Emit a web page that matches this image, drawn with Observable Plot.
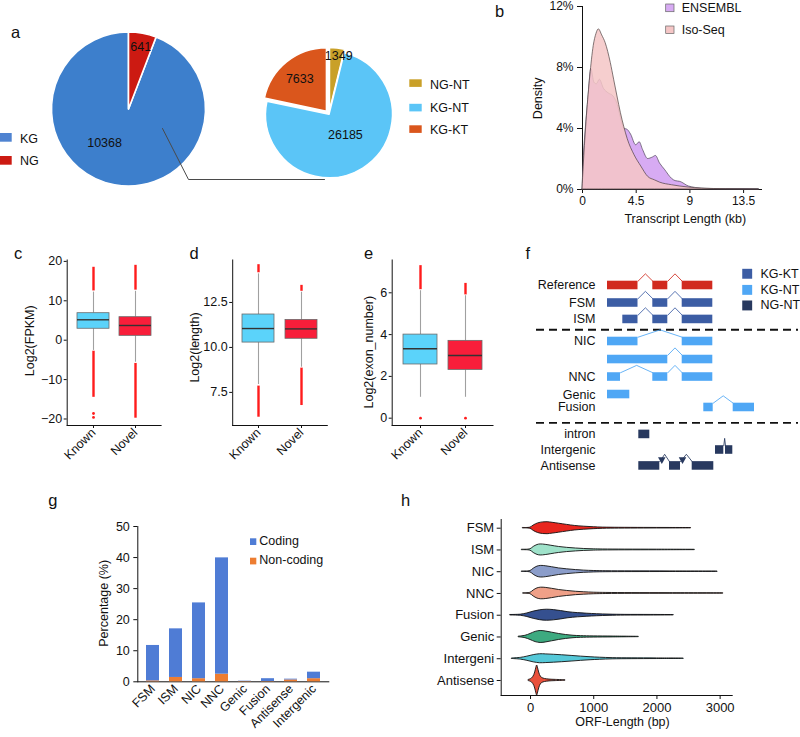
<!DOCTYPE html>
<html><head><meta charset="utf-8">
<script src="https://cdn.jsdelivr.net/npm/d3@7"></script>
<script src="https://cdn.jsdelivr.net/npm/@observablehq/plot@0.6"></script>
<style>
body{margin:0;background:#fff;}
#root{position:relative;width:800px;height:737px;overflow:hidden;background:#fff;}
</style></head><body><div id="root"></div>
<script>
// ---------------- DATA ----------------
// a: pies
const geneLabels = ["KG", "NG"];
const geneCounts = [10368, 641];
const geneColors = ["#3D7FCC", "#CC1A12"];
const transLabels = ["NG-NT", "KG-NT", "KG-KT"];
const transCounts = [1349, 26185, 7633];
const transColors = ["#C9A028", "#5BC5F7", "#DA561C"];

// b: density of transcript length (kb, %)
const ensemblKb   = [0,0.12,0.28,0.5,0.74,1.0,1.2,1.45,1.8,2.2,2.6,2.93,3.22,3.5,3.8,4.07,4.5,4.79,5.07,5.5,5.9,6.15,6.5,6.9,7.5,7.8,8.2,8.9,9.5,10.3,11.5,13,14.8];
const ensemblDens = [0,2.2,4.0,6.0,7.9,7.0,6.9,7.2,6.6,6.3,6.1,5.6,4.7,4.0,3.9,3.6,2.9,3.1,2.6,2.0,2.1,2.2,1.7,1.3,0.7,0.55,0.5,0.2,0.1,0.04,0.02,0.01,0];
const isoKb   = [0,0.1,0.37,0.65,0.94,1.17,1.37,1.65,1.94,2.37,2.65,2.93,3.22,3.5,3.79,4.36,4.93,5.5,6.07,6.5,7.5,8.9,10,12,14.8];
const isoDens = [0,1.5,4.8,7.4,9.4,10.2,10.5,10.1,9.6,8.3,7.2,6.1,5.0,4.1,3.3,2.25,1.5,0.83,0.6,0.45,0.28,0.13,0.06,0.02,0];

// c,d,e: box plot summaries
const boxGroups = ["Known", "Novel"];
const boxColors = ["#5BD3FA", "#F81E3A"];
const fpkmQ1 = [2.9, 1.1], fpkmMed = [5.18, 3.73], fpkmQ3 = [6.85, 5.84], fpkmLo = [-2.6, -5.6], fpkmHi = [12.2, 12.4];
const fpkmOutRanges = [[[12.5, 18.5], [-2.8, -14.5]], [[12.7, 19.0], [-5.9, -19.8]]];
const fpkmOutPoints = [[-18.6, -19.6], []];
const lenQ1 = [10.27, 10.48], lenMed = [11.05, 11.03], lenQ3 = [11.83, 11.53], lenLo = [7.94, 8.9], lenHi = [14.09, 13.07];
const lenOutRanges = [[[14.15, 14.6], [7.85, 6.12]], [[13.12, 13.45], [8.85, 6.77]]];
const lenOutPoints = [[], []];
const exonQ1 = [2.57, 2.31], exonMed = [3.32, 3.0], exonQ3 = [4.0, 3.7], exonLo = [1.0, 1.0], exonHi = [6.1, 5.86];
const exonOutRanges = [[[6.15, 7.3]], [[5.9, 6.45]]];
const exonOutPoints = [[0], [0]];

// f: structural categories schematic
const fLabels = ["Reference","FSM","ISM","NIC","","NNC","Genic","Fusion","intron","Intergenic","Antisense"];
const fClass  = ["Reference","KG-KT","KG-KT","KG-NT","KG-NT","KG-NT","KG-NT","KG-NT","NG-NT","NG-NT","NG-NT"];
const fTrack  = [0, 1, 1.94, 3.2, 4.23, 5.23, 6.23, 6.97, 8.51, 9.4, 10.31];
const fExons = [
  [[0,30.5],[45.3,60.3],[74.7,105.3]],
  [[0,30.5],[45.3,60.3],[74.7,105.3]],
  [[15.3,30.5],[45.3,60.3],[74.7,105.3]],
  [[0,30.5],[74.7,105.3]],
  [[0,60.3],[74.7,105.3]],
  [[0,13],[45.3,60.3],[74.7,105.3]],
  [[0,22.3]],
  [[96.3,105.7],[125.7,147]],
  [[31.3,42.3]],
  [[108,116.3],[118,125.3]],
  [[31.3,52.3],[62,73],[84.7,106.3]]
];
const fLegend = ["KG-KT", "KG-NT", "NG-NT"];
const fLegendTrack = [-0.67, 0.25, 1.14];
const fColorDomain = ["Reference","KG-KT","KG-NT","NG-NT"];
const fColorRange = ["#D12A1F","#3C5DA4","#4FA7F5","#28395F"];
const fDividers = [2.53, 7.85];

// g: coding potential
const gCats = ["FSM","ISM","NIC","NNC","Genic","Fusion","Antisense","Intergenic"];
const gCoding    = [11.4, 15.65, 24.4, 37.45, 0.1, 0.9, 0.25, 2.1];
const gNonCoding = [0.3, 1.4, 1.0, 2.45, 0.1, 0.1, 0.6, 1.0];
const gTypes = ["Coding", "Non-coding"];
const gColors = ["#4F7CD5", "#ED7D31"];

// h: ORF length violins ([bp, relative density])
const orfCats = ["FSM","ISM","NIC","NNC","Fusion","Genic","Intergeni","Antisense"];
const orfColors = ["#E8261E","#9FE2CA","#8B9DCA","#EFA088","#35508F","#3DAA80","#55C8D8","#E9503B"];
const violinFSM = [[-116,0.04],[0,0.1],[50,0.45],[120,0.8],[200,0.97],[270,1.0],[350,0.9],[450,0.75],[580,0.55],[700,0.38],[850,0.25],[1000,0.16],[1150,0.1],[1400,0.07],[1800,0.05],[2200,0.04],[2540,0.03]];
const violinISM = [[-132,0.04],[0,0.12],[50,0.5],[110,0.82],[160,0.92],[240,0.85],[330,0.7],[450,0.5],[580,0.35],[720,0.24],[850,0.16],[1000,0.11],[1150,0.08],[1500,0.06],[2000,0.05],[2600,0.03]];
const violinNIC = [[-132,0.04],[0,0.12],[50,0.5],[110,0.85],[170,0.97],[250,0.9],[340,0.75],[450,0.55],[580,0.4],[720,0.27],[850,0.18],[1000,0.12],[1200,0.08],[1600,0.06],[2200,0.05],[2960,0.03]];
const violinNNC = [[-110,0.04],[0,0.12],[50,0.5],[110,0.85],[170,0.97],[250,0.92],[340,0.78],[450,0.58],[580,0.42],[720,0.28],[850,0.2],[1000,0.13],[1200,0.09],[1600,0.06],[2200,0.05],[3050,0.03]];
const violinFusion = [[-316,0.04],[-150,0.1],[-50,0.3],[50,0.6],[150,0.82],[260,0.92],[370,0.85],[480,0.7],[600,0.5],[750,0.35],[900,0.25],[1050,0.17],[1250,0.1],[1500,0.06],[1900,0.05],[2266,0.03]];
const violinGenic = [[-184,0.05],[-80,0.2],[0,0.5],[80,0.85],[160,1.0],[250,0.9],[340,0.72],[450,0.5],[560,0.33],[680,0.2],[800,0.14],[1000,0.1],[1300,0.07],[1713,0.03]];
const violinIntergenic = [[-290,0.04],[-150,0.15],[-50,0.35],[50,0.6],[150,0.75],[250,0.72],[370,0.66],[500,0.58],[650,0.47],[800,0.35],[950,0.25],[1100,0.17],[1300,0.1],[1600,0.07],[2000,0.05],[2424,0.03]];
const violinAntisense = [[-26,0.1],[20,0.3],[60,0.9],[85,1.8],[105,2.5],[125,1.8],[150,0.9],[180,0.45],[230,0.25],[300,0.15],[400,0.1],[553,0.04]];
const orfViolins = [violinFSM, violinISM, violinNIC, violinNNC, violinFusion, violinGenic, violinIntergenic, violinAntisense];

// ---------------- RENDER ----------------
const FONT = '"Liberation Sans", Arial, Helvetica, sans-serif';
const root = document.getElementById("root");
function place(el, left, top) {
  el.style.position = "absolute"; el.style.left = left + "px"; el.style.top = top + "px";
  root.appendChild(el);
}
const st = (fs) => `font-family:${FONT};font-size:${fs}px;background:none;overflow:visible;color:#111;`;

// ---- panel a ----
function pieMark(values, colors, cx, cy, r, explode, startFrac) {
  return (index, scales) => {
    const sx = scales && scales.x, sy = scales && scales.y;
    const X = sx ? sx(cx) : cx, Y = sy ? sy(cy) : cy;
    const R = sx ? Math.abs(sx(cx + r) - sx(cx)) : r;
    const a0 = 2 * Math.PI * startFrac;
    const arcs = d3.pie().sort(null).value(d => d).startAngle(a0).endAngle(a0 + 2 * Math.PI)(values);
    const arc = d3.arc().innerRadius(0).outerRadius(R);
    const g = d3.create("svg:g");
    arcs.forEach((a, i) => {
      const mid = (a.startAngle + a.endAngle) / 2, e = explode[i];
      g.append("path").attr("d", arc(a)).attr("fill", colors[i])
        .attr("stroke", "#fff").attr("stroke-width", 1.6).attr("stroke-linejoin", "round")
        .attr("transform", `translate(${X + e * Math.sin(mid)},${Y - e * Math.cos(mid)})`);
    });
    return g.node();
  };
}
const bigPie = {cx: 128.5, cy: 109, r: 77};
const smallPie = {cx: 329, cy: 114.3, r: 63.5};
const geneLabelPos = [[216, 0.54], [10.5, 0.83]];          // [angle deg, radius fraction]
const transLabelPos = [[9, 0.93], [142.3, 0.41], [320.5, 0.735]];
const pieText = [];
geneCounts.forEach((v, i) => { const [a, f] = geneLabelPos[i]; const t = a * Math.PI / 180;
  pieText.push({x: bigPie.cx + f * bigPie.r * Math.sin(t), y: bigPie.cy - f * bigPie.r * Math.cos(t), s: String(v)}); });
transCounts.forEach((v, i) => { const [a, f] = transLabelPos[i]; const t = a * Math.PI / 180;
  pieText.push({x: smallPie.cx + f * smallPie.r * Math.sin(t), y: smallPie.cy - f * smallPie.r * Math.cos(t), s: String(v)}); });
const connector = [[162, 128], [188, 179], [324, 179]];

const plotA = Plot.plot({
  width: 420, height: 200, marginTop: 0, marginRight: 0, marginBottom: 0, marginLeft: 0,
  style: st(12.5),
  x: {domain: [0, 420], axis: null},
  y: {domain: [0, 200], reverse: true, axis: null},
  marks: [
    Plot.dot([[0, 0], [420, 200]], {x: d => d[0], y: d => d[1], r: 1, fill: "none", stroke: "none"}),
    pieMark(geneCounts, geneColors, bigPie.cx, bigPie.cy, bigPie.r, [0, 0], geneCounts[1] / (geneCounts[0] + geneCounts[1])),
    pieMark(transCounts, transColors, smallPie.cx, smallPie.cy, smallPie.r, [3.5, 0, 4], 0),
    Plot.line(connector, {x: d => d[0], y: d => d[1], stroke: "#4a4a4a", strokeWidth: 1}),
    Plot.text(pieText, {x: "x", y: "y", text: "s", fill: "#111", fontSize: 12.5})
  ]
});
place(plotA, 0, 0);

// ---- panel b ----
const ensRows = ensemblKb.map((x, i) => ({x, y: ensemblDens[i]}));
const isoRows = isoKb.map((x, i) => ({x, y: isoDens[i]}));
const plotB = Plot.plot({
  width: 260, height: 240, marginLeft: 62, marginRight: 19, marginTop: 6, marginBottom: 51,
  style: st(12),
  x: {domain: [0, 15], ticks: [0, 4.5, 9, 13.5], tickSize: 4, tickPadding: 3, line: true, label: null, tickFormat: d => String(d)},
  y: {domain: [0, 12], ticks: [0, 4, 8, 12], tickSize: 5, tickPadding: 4, line: true, label: null, tickFormat: d => d + "%"},
  marks: [
    Plot.areaY(ensRows, {x: "x", y: "y", fill: "#D7ABF3", stroke: "#4d4358", strokeWidth: 0.7, curve: "monotone-x"}),
    Plot.areaY(isoRows, {x: "x", y: "y", fill: "#F5C6C6", fillOpacity: 0.86, stroke: "#4d4040", strokeWidth: 0.7, curve: "monotone-x"})
  ]
});
place(plotB, 520, 0);

// ---- panels c, d, e ----
function boxPanel(o) {
  const rows = boxGroups.map((g, i) => ({g, q1: o.q1[i], med: o.med[i], q3: o.q3[i], lo: o.lo[i], hi: o.hi[i]}));
  const ranges = [], pts = [];
  o.outRanges.forEach((rs, i) => rs.forEach(r => ranges.push({g: boxGroups[i], a: r[0], b: r[1]})));
  o.outPoints.forEach((ps, i) => ps.forEach(v => pts.push({g: boxGroups[i], v})));
  return Plot.plot({
    width: o.width, height: 230, marginLeft: o.mL, marginRight: o.mR, marginTop: 9.5, marginBottom: 55,
    style: st(12.5),
    x: {domain: boxGroups, paddingInner: 0.25, paddingOuter: 0.225, tickRotate: -45, tickSize: 3, tickPadding: 2, line: true, label: null},
    y: {domain: o.domain, ticks: o.ticks, tickFormat: o.tickFormat, tickSize: 3, tickPadding: 2, line: true, label: null},
    color: {domain: boxGroups, range: boxColors},
    marks: [
      Plot.ruleX(rows, {x: "g", y1: "lo", y2: "q1", stroke: "#a0a0a0", strokeWidth: 1.1}),
      Plot.ruleX(rows, {x: "g", y1: "q3", y2: "hi", stroke: "#a0a0a0", strokeWidth: 1.1}),
      Plot.ruleX(ranges, {x: "g", y1: "a", y2: "b", stroke: "#FF1C1C", strokeWidth: 2.4}),
      Plot.dot(pts, {x: "g", y: "v", r: 1.4, fill: "#FF1C1C"}),
      Plot.barY(rows, {x: "g", y1: "q1", y2: "q3", fill: "g", stroke: "#6b6b6b", strokeWidth: 0.8}),
      Plot.tickY(rows, {x: "g", y: "med", stroke: "#333", strokeWidth: 1.4})
    ]
  });
}
place(boxPanel({width: 170, mL: 66.7, mR: 9.4, domain: [-21.65, 20.35], ticks: [-20, -10, 0, 10, 20],
  q1: fpkmQ1, med: fpkmMed, q3: fpkmQ3, lo: fpkmLo, hi: fpkmHi, outRanges: fpkmOutRanges, outPoints: fpkmOutPoints}), 0, 250);
place(boxPanel({width: 170, mL: 62.2, mR: 13.2, domain: [5.66, 14.86], ticks: [7.5, 10, 12.5], tickFormat: d3.format(".1f"),
  q1: lenQ1, med: lenMed, q3: lenQ3, lo: lenLo, hi: lenHi, outRanges: lenOutRanges, outPoints: lenOutPoints}), 170, 250);
place(boxPanel({width: 160, mL: 51.7, mR: 7.5, domain: [-0.35, 7.57], ticks: [0, 2, 4, 6],
  q1: exonQ1, med: exonMed, q3: exonQ3, lo: exonLo, hi: exonHi, outRanges: exonOutRanges, outPoints: exonOutPoints}), 340, 250);

// ---- panel f ----
const exonRows = [], intronPts = [], arrowPts = [];
const EH = 0.245, IH = 0.42;
fExons.forEach((ex, i) => {
  const t = fTrack[i], cls = fClass[i];
  ex.forEach(([a, b]) => exonRows.push({a, b, t, cls}));
  for (let k = 1; k < ex.length; k++) {
    const e1 = ex[k - 1][1], s2 = ex[k][0], top = t - EH, id = i + "-" + k;
    intronPts.push({id, cls, x: e1, y: top}, {id, cls, x: (e1 + s2) / 2, y: top - IH}, {id, cls, x: s2, y: top});
    if (fLabels[i] === "Antisense") arrowPts.push({x: e1 + 2, y: top - 0.12, cls});
  }
});
const labelRows = fLabels.map((s, i) => ({s, t: fTrack[i]})).filter(d => d.s);
const legRows = fLegend.map((s, i) => ({s, t: fLegendTrack[i]}));
const plotF = Plot.plot({
  width: 270, height: 215, marginTop: 0, marginRight: 0, marginBottom: 0, marginLeft: 0,
  style: st(12.5),
  x: {domain: [-77, 193], axis: null},
  y: {domain: [-1.314, 10.971], reverse: true, axis: null},
  color: {domain: fColorDomain, range: fColorRange},
  marks: [
    Plot.ruleY(fDividers, {x1: -71, x2: 191, stroke: "#111", strokeWidth: 1.8, strokeDasharray: "8,5"}),
    Plot.line(intronPts, {x: "x", y: "y", z: "id", stroke: "cls", strokeWidth: 1, strokeOpacity: 0.85}),
    Plot.rect(exonRows, {x1: "a", x2: "b", y1: d => d.t - EH, y2: d => d.t + EH, fill: "cls"}),
    Plot.dot(arrowPts, {x: "x", y: "y", fill: "cls", symbol: "triangle", r: 2.8, rotate: 60}),
    Plot.text(labelRows, {x: -12, y: "t", text: "s", textAnchor: "end", fill: "#111", fontSize: 12.5}),
    Plot.dot(legRows, {x: 139.7, y: "t", fill: "s", symbol: "square", r: 5.6}),
    Plot.text(legRows, {x: 153, y: "t", text: "s", textAnchor: "start", fill: "#111", fontSize: 12.5})
  ]
});
place(plotF, 530, 262);

// ---- panel g ----
const gRows = [];
gCats.forEach((c, i) => { gRows.push({cat: c, type: "Non-coding", value: gNonCoding[i]}); });
gCats.forEach((c, i) => { gRows.push({cat: c, type: "Coding", value: gCoding[i]}); });
const plotG = Plot.plot({
  width: 280, height: 227, marginLeft: 77.3, marginRight: 11.7, marginTop: 16, marginBottom: 55.7,
  style: st(12.5),
  x: {domain: gCats, paddingInner: 0.43, paddingOuter: 0.29, tickRotate: -45, tickSize: 0, tickPadding: 5, line: true, label: null},
  y: {domain: [0, 50], ticks: [0, 10, 20, 30, 40, 50], tickSize: 4, tickPadding: 4, line: true, label: null},
  color: {domain: gTypes, range: gColors},
  marks: [
    Plot.barY(gRows, Plot.stackY({order: null}, {x: "cat", y: "value", fill: "type"}))
  ]
});
place(plotG, 60, 510);

// ---- panel h ----
const violinRows = [];
orfViolins.forEach((pts, i) => pts.forEach(([v, d]) => violinRows.push({cat: orfCats[i], i, v, d})));
const K = 6 / 21.76;
const plotH = Plot.plot({
  width: 400, height: 232, marginLeft: 100.7, marginRight: 68.3, marginTop: 14, marginBottom: 42,
  style: st(13),
  x: {domain: [-464, 3191], ticks: [0, 1000, 2000, 3000], tickFormat: d3.format("d"), tickSize: 4, tickPadding: 3, line: true, label: null},
  y: {domain: [-0.4, 7.69], reverse: true, ticks: orfCats.map((c, i) => i), tickFormat: i => orfCats[i], tickSize: 4, tickPadding: 3, line: true, label: null},
  color: {domain: orfCats, range: orfColors},
  marks: [
    Plot.areaY(violinRows, {x: "v", y1: d => d.i - d.d * K, y2: d => d.i + d.d * K, z: "cat", fill: "cat", stroke: "#111", strokeWidth: 0.9, curve: "catmull-rom"})
  ]
});
place(plotH, 400, 505);

// ---- overlay: panel letters, titles, legends ----
const ov = d3.create("svg").attr("width", 800).attr("height", 737)
  .style("position", "absolute").style("left", "0px").style("top", "0px")
  .style("overflow", "visible").style("font-family", FONT);
function T(x, y, s, size = 12.5, anchor = "start", rot = 0) {
  const t = ov.append("text").attr("font-size", size).attr("text-anchor", anchor).attr("fill", "#111").text(s);
  if (rot) t.attr("transform", `translate(${x},${y}) rotate(${rot})`); else t.attr("x", x).attr("y", y);
}
function R(x, y, w, h, fill, stroke) {
  const r = ov.append("rect").attr("x", x).attr("y", y).attr("width", w).attr("height", h).attr("fill", fill);
  if (stroke) r.attr("stroke", stroke).attr("stroke-width", 0.7);
}
[["a", 11, 38.3], ["b", 495, 16.7], ["c", 14, 259.3], ["d", 189.5, 259.3], ["e", 364, 259.3], ["f", 525.5, 259], ["g", 48.3, 505.5], ["h", 401, 506]]
  .forEach(([s, x, y]) => T(x, y, s, 16.5));
// a legends
R(0, 133, 11.7, 8.7, "#4F83D1"); T(20, 142.7, geneLabels[0], 12.5);
R(0, 156, 11.7, 8.7, geneColors[1]); T(20, 165, geneLabels[1], 12.5);
[[79.3, 89], [103.8, 112], [125.3, 134.3]].forEach(([y, b], i) => { R(409.3, y, 12.4, 7.6, transColors[i]); T(430, b, transLabels[i], 12.5); });
// b legend & titles
R(665.7, 4, 8.3, 7.7, "#D7ABF3", "#666"); T(681.7, 11.7, "ENSEMBL", 12.5);
R(665.7, 26, 8.3, 7.5, "#F5C6C6", "#666"); T(681.7, 33.5, "Iso-Seq", 12.5);
T(541.5, 98.3, "Density", 12.5, "middle", -90);
T(685.3, 223, "Transcript Length (kb)", 12.5, "middle");
// c d e titles
T(34, 340.8, "Log2(FPKM)", 12.5, "middle", -90);
T(199, 347.5, "Log2(length)", 12.5, "middle", -90);
T(372.5, 352.2, "Log2(exon_number)", 12.5, "middle", -90);
// g
T(107.5, 603.3, "Percentage (%)", 12.5, "middle", -90);
R(250, 538.3, 6.3, 6.7, gColors[0]); T(259.3, 545.3, gTypes[0], 12.5);
R(250, 557.7, 6.3, 6.7, gColors[1]); T(259.3, 564.3, gTypes[1], 12.5);
// h
T(622.5, 725.5, "ORF-Length (bp)", 12.5, "middle");
root.appendChild(ov.node());
</script></body></html>
